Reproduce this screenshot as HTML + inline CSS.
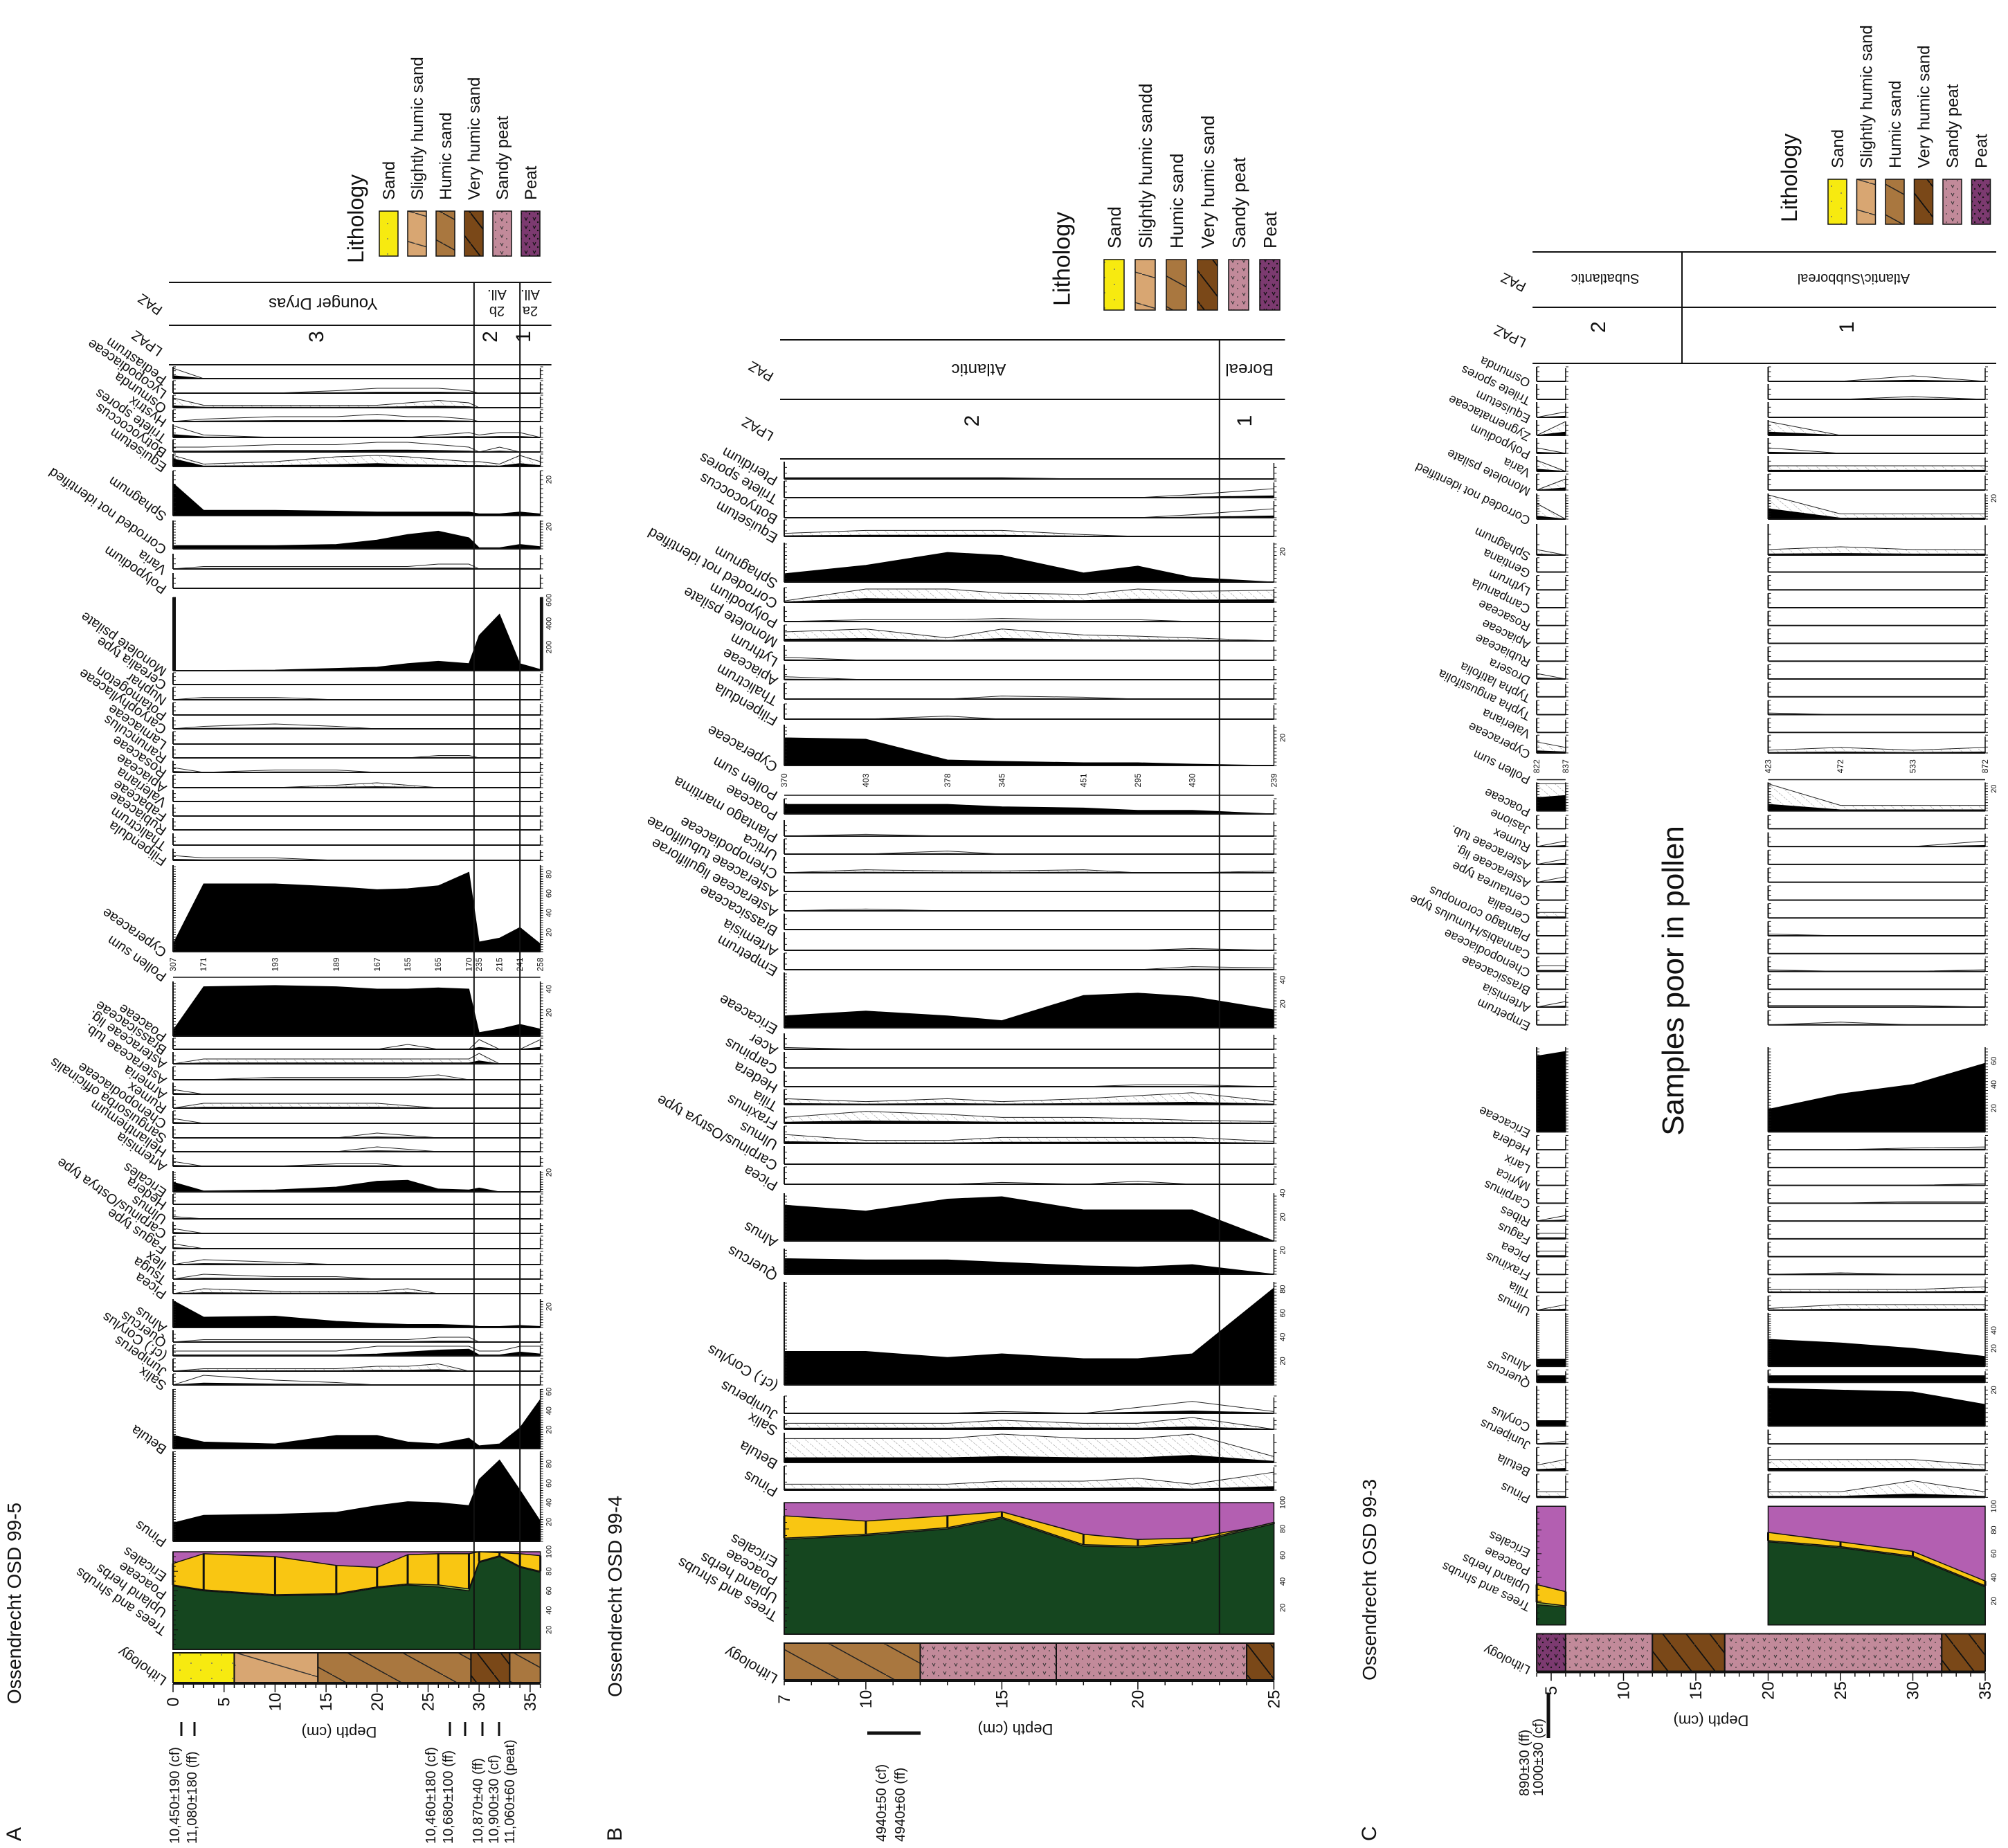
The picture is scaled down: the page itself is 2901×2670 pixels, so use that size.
<!DOCTYPE html>
<html><head><meta charset="utf-8"><style>
html,body{margin:0;padding:0;background:#fff}
svg{display:block;font-family:"Liberation Sans",sans-serif}
</style></head><body>
<svg id="chart" xmlns="http://www.w3.org/2000/svg" width="2901" height="2670" viewBox="0 0 2901 2670">
<defs>
<pattern id="hatch" patternUnits="userSpaceOnUse" width="9" height="9" patternTransform="rotate(-50)"><rect width="9" height="9" fill="#fff"/><line x1="0" y1="0" x2="0" y2="9" stroke="#999" stroke-width="1.2" stroke-dasharray="3,2"/></pattern>
<pattern id="pSand" patternUnits="userSpaceOnUse" width="30" height="22"><rect width="30" height="22" fill="#f7ea10"/><circle cx="6" cy="5" r="1" fill="#776"/><circle cx="20" cy="15" r="1" fill="#776"/></pattern>
<pattern id="pSlight" patternUnits="userSpaceOnUse" width="150" height="44"><rect width="150" height="44" fill="#d8a672"/><line x1="0" y1="0" x2="150" y2="44" stroke="#333" stroke-width="1.5"/><circle cx="40" cy="30" r="1" fill="#775"/></pattern>
<pattern id="pHumic" patternUnits="userSpaceOnUse" width="80" height="44"><rect width="80" height="44" fill="#a9773f"/><line x1="0" y1="0" x2="80" y2="44" stroke="#222" stroke-width="1.5"/></pattern>
<pattern id="pVery" patternUnits="userSpaceOnUse" width="34" height="44"><rect width="34" height="44" fill="#7a4818"/><line x1="0" y1="0" x2="34" y2="44" stroke="#111" stroke-width="1.8"/></pattern>
<pattern id="pSandyPeat" patternUnits="userSpaceOnUse" width="16" height="12"><rect width="16" height="12" fill="#c28a9a"/><path d="M3 3 l2 4 l2 -4" stroke="#333" fill="none" stroke-width="1"/><circle cx="12" cy="9" r="0.9" fill="#333"/></pattern>
<pattern id="pPeat" patternUnits="userSpaceOnUse" width="12" height="12"><rect width="12" height="12" fill="#7c3a70"/><path d="M2 2 l2 4 l2 -4" stroke="#111" fill="none" stroke-width="1.2"/><circle cx="9" cy="9" r="1.2" fill="#111"/></pattern>
</defs>
</svg>
<script>
// ---------- data: Panel A (Ossendrecht OSD 99-5) ----------
const depthsA=[0,3,10,16,20,23,26,29,30,32,34,36];
const pollenSumA=[307,171,193,189,167,155,165,170,235,215,241,258];
const treesA=[65,60,55,56,63,66,64,60,89,95,84,79];
const uplandA=[66,61,56,57,64,67,66,62,90,96,85,80];
const poaceaeSumA=[88,98,95,86,84,97,98,98,100,99,98,96];
const pinusA=[19,27,28,30,37,41,40,37,64,84,53,21];
const betulaA=[14,7,5,14,14,7,5,11,3,5,22,52];
const salixA=[0,2,1,0.5,0,0,0,0,0,0,0,0];
const juniperusA=[0,0.5,0.5,0.5,1,1,1.5,0,0,0,0,0];
const corylusA=[1,1,1,1,2,4,6,7,1,1,4,2];
const quercusA=[0,0.5,0.5,0.5,0.5,0.5,1,1,0,0,0,0];
const alnusA=[26,10,11,6,4,3,3,2,1,1,2,1];
const piceaA=[0,1,0.5,0.5,0.5,1,0,0,0,0,0,0];
const tsugaA=[0,1,0.5,0.5,0,0,0,0,0,0,0,0];
const ilexA=[0,1,0.5,0,0,0,0,0,0,0,0,0];
const fagusA=[1,0,0,0,0,0,0,0,0,0,0,0];
const carpinusA=[1,0,0,0,0,0,0,0,0,0,0,0];
const ulmusA=[0.5,0,0,0,0,0,0,0,0,0,0,0];
const hederaA=[0,0,0,0,0,0,0,0,0,0,0,0];
const ericalesA=[10,1,2,5,11,12,3,2,4,0,0,0];
const artemisiaA=[1,0,0,0.5,0.5,0,0,0,0,0,0,0];
const helianthemumA=[0,0,0,0,1,0.5,0,0,0,0,0,0];
const sanguisorbaA=[0,0,0,0,1,0.5,0,0,0,0,0,0];
const chenopodA=[1,0,0,0,0,0,0,0,0,0,0,0];
const rumexA=[0,1,1,1,1,0.5,0,0,0,0,0,0];
const armeriaA=[1,0,0,0,0,0,0,0,0,0,0,0];
const astTubA=[0,0,0.5,0.5,0.5,0.5,1,0,0,0,0,0];
const astLigA=[0,1,1,1,1,1,1,1,3,0,0,0];
const brassicaA=[0,0,0,0,0,1,0,0,2,0,0,2];
const poaceaeA=[5,42,43,42,40,40,41,40,3,6,10,6];
const cyperaceaeA=[8,70,70,67,64,65,68,82,10,14,25,8];
const filipendulaA=[1,0.5,0.5,0,0,0,0,0,0,0,0,0];
const thalictrumA=[0,0,0,0,0,0,0,0,0,0,0,0];
const rubiaceaeA=[0,0,0,0,0,0,0,0,0,0,0,0];
const fabaceaeA=[0,0,0,0,0,0,0,0,0,0,0,0];
const valerianaA=[0,0,0,0,0,0,0,0,0,0,0,0];
const apiaceaeA=[0,0,0,0.5,1,0.5,0,0,0,0,0,0];
const rosaceaeA=[1,0,0.5,0.5,0,0,0,0,0,0,0,0];
const ranunculusA=[0,0,0,0,0,0,0.5,0.5,0,0,0,0];
const lamiaceaeA=[0,0,0,0,0,0,0,0,0,0,0,0];
const caryoA=[0,0.5,1,0.5,0,0,0,0,0,0,0,0];
const potamogetonA=[0,0,0,0,0,0,0,0,0,0,0,0];
const nupharA=[0,0.5,0.5,0,0,0,0,0,0,0,0,0];
const cerealiaA=[0,0,0,0,0,0,0,0,0,0,0,0];
const monoleteA=[2,2,5,20,30,60,80,60,300,480,60,10];
const polypodiumA=[0,0,0,0,0,0,0,0,0,0,0,0];
const variaA=[0,0.5,0.5,0.5,0.5,0.5,1,1,0,0,0,0];
const corrodedA=[3,3,3,4,8,13,16,10,1,1,4,2];
const sphagnumA=[18,3,3,2.5,2,2,2,2,1,1,2,1];
const equisetumA=[8,0.5,1,2,3,2,1.5,1,1,0.5,3,1];
const botryoA=[1,1,1.5,1.5,2,2,1.5,1,0,1,0,0];
const trileteA=[3,0.5,0,0,0,0,0.5,1,0.5,1,1,0];
const hystrixA=[0,0.5,1,1,1.5,1,1,0.5,0,0,0,0];
const osmundaA=[2,0.5,0.5,0.5,0.5,1,1.5,1,0,0,0,0];
const lycopodA=[0,0,0,0.5,1,1,1,0.5,0,0,0,0];
const pediastrumA=[3,0,0,0,0,0,0,0,0,0,0,0];
// ---------- data: Panel B (Ossendrecht OSD 99-4) ----------
const depthsB=[7,10,13,15,18,20,22,25];
const pollenSumB=[370,403,378,345,451,295,430,239];
const treesB=[72,75,80,88,67,66,69,84];
const uplandB=[73,76,81,89,68,67,70,85];
const poaceaeSumB=[90,86,90,93,76,72,73,84];
const pinusB=[1,1,1,1.5,1.5,2,1,3];
const betulaB=[4,4,4,5,4,4,6,1];
const salixB=[1,1,1,1.5,1,1,2,0];
const juniperusB=[0,0,0,0.3,0,1,2,0.3];
const corylusB=[28,28,23,26,22,22,26,81];
const quercusB=[13,12,12,10,7,6,8,0];
const alnusB=[30,25,35,37,26,26,26,0];
const piceaB=[0,0,0,0.3,0,0.5,0,0];
const carpOstB=[0,0,0,0,0,0,0,0];
const ulmusB=[1.5,0.5,0.5,1,1,1,1,0.3];
const fraxinusB=[1,2,1.5,1,1,0.8,0.5,0.3];
const tiliaB=[1,0.5,1,0.5,1,1.5,2,0.5];
const hederaB=[0,0,0,0,0,0.3,0.3,0];
const carpinusB=[0,0,0,0,0,0,0,0];
const acerB=[0.3,0,0,0,0,0,0,0];
const ericaceaeB=[10,14,10,6,27,29,26,15];
const empetrumB=[0,0,0,0,0,0,0.5,0.3];
const artemisiaB=[0,0,0,0,0,0,0.3,0];
const brassicaB=[0,0,0,0,0,0,0,0];
const astLigB=[0,0.3,0,0,0,0,0,0];
const astTubB=[0,0,0,0,0,0,0,0];
const chenopodB=[0,0.5,0.3,0.3,0.5,0,0,0.3];
const urticaB=[0,0,0.5,0,0,0,0,0];
const plantagoB=[0,0.3,0,0,0,0,0,0];
const poaceaeB=[8,8,8,6,5,3,3,0];
const cyperaceaeB=[20,19,4,3,2,2,1,0];
const filipendulaB=[0,0,0.5,0,0,0,0,0];
const thalictrumB=[0,0,0,0.5,0.3,0,0,0];
const apiaceaeB=[0.5,0,0,0,0,0,0,0];
const lythrumB=[0.5,0,0,0,0,0,0,0];
const monoleteB=[1.5,2,0.5,2,1,0.8,0.5,0];
const polypodiumB=[0,0.3,0.3,0.5,0.3,0.3,0,0];
const corrodedB=[0.2,3,2.5,1.5,1.3,2.5,1.8,2];
const sphagnumB=[5.5,11,19.5,17.5,6,10.5,3,0];
const equisetumB=[0.5,1,1,1,0.3,0,0,0];
const botryoB=[0,0,0,0,0,0,0.5,1.5];
const trileteB=[0,0,0,0,0,0,0.5,1.5];
const pteridiumB=[1,1,1,1,0,0,0,0];
// ---------- data: Panel C (Ossendrecht OSD 99-3) ----------
const depthsC=[4,6,20,25,30,35];
const pollenSumC=[822,837,423,472,533,872];
const treesC=[17,15,70,65,57,32];
const uplandC=[19,16,71,66,58,33];
const poaceaeSumC=[34,28,78,70,62,37];
const pinusC=[1,1,1,1,3,1];
const betulaC=[1,2,2,2,2,1];
const juniperusC=[0,0.5,0,0,0,0];
const corylusC=[3,3,21,20,19,12];
const quercusC=[6,6,6,6,6,6];
const alnusC=[8,8,30,26,20,11];
const ulmusC=[0,1,0.3,1,1,1];
const tiliaC=[0,0,0.5,0.5,0.5,1];
const fraxinusC=[0,0,0,0.3,0,0];
const piceaC=[1,1,0,0,0,0];
const fagusC=[1,1,0,0,0,0];
const ribesC=[0,1,0,0,0,0];
const carpinusC=[0,0,0,0,0.3,0.3];
const myricaC=[0,0,0,0,0,0.3];
const larixC=[0,0,0,0,0,0];
const hederaC=[0,0,0,0,0.3,0.5];
const ericaceaeC=[64,68,19,32,40,58];
const empetrumC=[0,0,0,0.5,0,0];
const artemisiaC=[0,1,0.3,0.3,0.3,0];
const brassicaC=[0,0,0,0,0,0];
const chenopodC=[1,1,0.3,0,0,0.3];
const cannabisC=[0,0,0,0,0,0];
const plantagoC=[0,0,0.3,0,0,0];
const cerealiaC=[1,1,0,0,0,0];
const centaureaC=[0,0,0,0,0,0];
const astLigC=[0,1,0,0,0,0];
const astTubC=[0,1,0,0,0,0];
const rumexC=[0,1,0,0,0,1];
const jasioneC=[0,0,0,0,0,0];
const poaceaeC=[12,14,6,1,1,1];
const cyperaceaeC=[2,1,0.5,1,0.5,1];
const valerianaC=[0,0,0,0,0,0];
const typhaAC=[0,0,0.3,0,0,0];
const typhaLC=[0,0,0,0,0,0];
const droseraC=[1,0,0,0,0,0];
const rubiaceaeC=[0,0,0,0,0,0];
const apiaceaeC=[0,0,0,0,0,0];
const rosaceaeC=[0,0,0,0,0,0];
const campanulaC=[0,0,0,0,0,0];
const lythrumC=[0,0,0,0,0,0];
const gentianaC=[0,0,0,0,0,0];
const sphagnumC=[1,0,1,1.5,1,1];
const corrodedC=[3,0,10,1,1,1];
const monoleteC=[0,2,0,0,0,0];
const variaC=[2,0,1,1,1,1];
const polypodiumC=[1,0,1,0,0,0];
const zygnemaC=[0,3,3,0,0,0];
const equisetumC=[0,1,0,0,0,0];
const trileteC=[0,0,0,0,0.5,0];
const osmundaC=[0,0,0,0,1,0];

// ---------- rendering ----------
const NS='http://www.w3.org/2000/svg';
const svg=document.getElementById('chart');
function mk(tag,attrs,parent){const e=document.createElementNS(NS,tag);for(const k in attrs)e.setAttribute(k,attrs[k]);(parent||svg).appendChild(e);return e;}
function slug(s){return s.toLowerCase().replace(/[^a-z0-9]+/g,'-').replace(/^-|-$/g,'');}
function txt(str,x,y,size,rot,anchor,name,parent){
  const t=mk('text',{x:0,y:0,'font-size':size,'text-anchor':anchor||'start',fill:'#111',transform:`translate(${x},${y}) rotate(${rot||0})`},parent);
  t.textContent=str;
  
  
  return t;
}
function line(x1,y1,x2,y2,w,parent,c){return mk('line',{x1,y1,x2,y2,stroke:c||'#111','stroke-width':w||1.5},parent);}

function drawPanel(P){
  const g=mk('g',{});
  
  
  const X=P.x;
  const segs=P.segs;
  const d=P.depths;
  const segX=s=>[X(d[s[0]]),X(d[s[1]])];
  P.cols.forEach(c=>{
    const cg=mk('g',{},g);
    
    
    const h=c.b-c.t;
    if(c.k==='sum'){
      const layers=[[null,'#b35fb1'],[P.poa,'#f9c612'],[P.upl,'#8db84a'],[P.trees,'#15461f']];
      segs.forEach(s=>{
        layers.forEach(([arr,col])=>{
          let pts=`${X(d[s[0]])},${c.b} `;
          for(let i=s[0];i<=s[1];i++){const v=arr?arr[i]:100;pts+=`${X(d[i])},${c.b-v/100*h} `;}
          pts+=`${X(d[s[1]])},${c.b}`;
          const p=mk('polygon',{points:pts,fill:col,stroke:'#111','stroke-width':1.5},cg);
          
          
        });
        for(let i=s[0];i<=s[1];i++){line(X(d[i]),c.b-P.upl[i]/100*h,X(d[i]),c.b-P.poa[i]/100*h,3,cg);}
      });
      line(P.xl,c.t,P.xl,c.b,2,cg);
      for(let v=0;v<=100;v+=5)line(P.xl,c.b-v/100*h,P.xl+(v%20?4:7),c.b-v/100*h,1,cg);
      [20,40,60,80,100].forEach(v=>txt(String(v),P.xr+16,c.b-v/100*h,11,-90,'middle','summary-scale-label',cg));
      ['Trees and shrubs','Upland herbs','Poaceae','Ericales'].forEach((n,j)=>txt(n,P.xl-8,c.b-30-j*26,P.fs,P.ang,'start','label-'+slug(n),cg));
      return;
    }
    if(c.k==='ps'){
      segs.forEach(s=>{const [a,b]=segX(s);line(a,c.t,b,c.t,1.5,cg);line(a,c.b,b,c.b,1.5,cg);});
      d.forEach((dv,i)=>txt(String(P.ps[i]),X(dv)+4,(c.t+c.b)/2,12,-90,'middle','pollen-sum-value',cg));
      txt('Pollen sum',P.xl-8,c.b-4,P.fs,P.ang,'start','label-pollen-sum',cg);
      return;
    }
    const big=c.s&&c.s.length;
    segs.forEach(s=>{
      const [a,b]=segX(s);
      if(c.k!=='black'){
        let ex=`${a},${c.b} `;
        for(let i=s[0];i<=s[1];i++)ex+=`${X(d[i])},${c.b-Math.min(c.v[i]*c.u*5,h-2)} `;
        ex+=`${b},${c.b}`;
        const e=mk('polygon',{points:ex,fill:c.k==='hatch'?'url(#hatch)':'none',stroke:'#222','stroke-width':1},cg);
        
        
      }
      let pts=`${a},${c.b} `;
      for(let i=s[0];i<=s[1];i++)pts+=`${X(d[i])},${c.b-Math.min(c.v[i]*c.u,h)} `;
      pts+=`${b},${c.b}`;
      const p=mk('polygon',{points:pts,fill:'#000',stroke:'#000','stroke-width':1},cg);
      
      
      line(a,c.b,b,c.b,2,cg);
      line(a,c.t,a,c.b,2,cg);
      line(b,c.t+(big?0:2),b,c.b,1.5,cg);
      const step=big?c.u*2.5:h/3;
      for(let y=c.b;y>=c.t;y-=step){line(a,y,a+4,y,1,cg);line(b,y,b+4,y,1,cg);}
    });
    if(big)c.s.forEach(v=>txt(String(v),P.xr+16,c.b-v*c.u,11,-90,'middle','scale-label',cg));
    txt(c.n,P.xl-8,c.b-2,P.fs,P.ang,'start','label-'+slug(c.n),cg);
  });
  // lithology
  const lg=mk('g',{},g);
  
  
  P.lith.forEach(([d0,d1,pat])=>{const r=mk('rect',{x:X(d0),y:P.lt,width:X(d1)-X(d0),height:P.lb-P.lt,fill:`url(#${pat})`,stroke:'#111','stroke-width':2},lg);
    
    });
  txt('Lithology',P.xl-8,P.lb-6,P.fs,P.ang,'start','label-lithology',lg);
  // depth axis
  const ag=mk('g',{},g);
  
  
  line(P.x(P.dmin),P.lb+2,P.x(P.dmax),P.lb+2,2,ag);
  for(let k=Math.ceil(P.dmin);k<=P.dmax;k++){line(X(k),P.lb+2,X(k),P.lb+(k%5?8:14),1.5,ag);}
  P.ticks.forEach(t=>txt(String(t),X(t)+8,P.lb+28,24,-90,'middle','depth-tick-label',ag));
  txt('Depth (cm)',P.depthLabelX,P.lb+64,22,180,'middle','depth-axis-title',ag);
  // zones
  P.zoneX.forEach(z=>line(X(z),P.paz[0],X(z),P.zoneBottom,2,g));
  P.paz.forEach(y=>line(P.xl-6,y,P.xr+16,y,2,g));
  P.pazDiv.forEach(x=>line(x,P.paz[0],x,P.paz[2],2,g));
  txt('PAZ',P.xl-14,(P.paz[0]+P.paz[1])/2+6,20,P.ang,'start','paz-header',g);
  txt('LPAZ',P.xl-14,(P.paz[1]+P.paz[2])/2+6,20,P.ang,'start','lpaz-header',g);
  P.pazLabels.forEach(([s,x,fs])=>s.split('|').forEach((part,j,arr)=>txt(part,x,(P.paz[0]+P.paz[1])/2-8+(j-(arr.length-1)/2)*24,fs,180,'middle','paz-zone-label',g)));
  P.lpazLabels.forEach(([s,x])=>txt(s,x,(P.paz[1]+P.paz[2])/2-12,30,-90,'middle','lpaz-zone-label',g));
  // legend
  const L=P.legend;
  const lgd=mk('g',{},g);
  
  
  txt('Lithology',L.x+L.fs*0.4,L.y1,L.fs,-90,'start','legend-title',lgd);
  L.items.forEach(([name,pat],i)=>{
    const sx=L.sx+i*L.sp;
    const r=mk('rect',{x:sx,y:L.y0,width:L.w,height:L.h,fill:`url(#${pat})`,stroke:'#111','stroke-width':1.5},lgd);
    
    
    txt(name,sx+L.w/2+L.ifs*0.36,L.y0-16,L.ifs,-90,'start','legend-entry-'+slug(name),lgd);
  });
  // titles and dates
  txt(P.title,P.titleX+10,P.titleY,28,-90,'start','panel-title',g);
  txt(P.letter,P.titleX+10,2660,30,-90,'start','panel-letter',g);
  P.dates.forEach(([s,x,y])=>txt(s,x+7,y,20,-90,'start','radiocarbon-date',g));
  P.bars.forEach(([x1,y1,x2,y2,w])=>line(x1,y1,x2,y2,w,g));
}

const legItems=[['Sand','pSand'],['Slightly humic sand','pSlight'],['Humic sand','pHumic'],['Very humic sand','pVery'],['Sandy peat','pSandyPeat'],['Peat','pPeat']];
const legItemsB=[['Sand','pSand'],['Slightly humic sandd','pSlight'],['Humic sand','pHumic'],['Very humic sand','pVery'],['Sandy peat','pSandyPeat'],['Peat','pPeat']];

// Panel A
const PA={id:'panel-a-osd-99-5',x:d=>250+d*14.74,xl:250,xr:250+36*14.74,depths:depthsA,segs:[[0,11]],fs:20,ang:215,
 ps:pollenSumA,trees:treesA,upl:uplandA,poa:poaceaeSumA,
 cols:[
 {n:'Pediastrum',t:530,b:547,k:'line',u:1.4,v:pediastrumA},
 {n:'Lycopodiaceae',t:550,b:568,k:'line',u:1.4,v:lycopodA},
 {n:'Osmunda',t:571,b:589,k:'hatch',u:1.4,v:osmundaA},
 {n:'Hystrix',t:592,b:609,k:'line',u:1.4,v:hystrixA},
 {n:'Trilete spores',t:613,b:632,k:'line',u:1.4,v:trileteA},
 {n:'Botryococcus',t:635,b:653,k:'line',u:1.4,v:botryoA},
 {n:'Equisetum',t:656,b:674,k:'hatch',u:1.4,v:equisetumA},
 {n:'Sphagnum',t:680,b:745,k:'black',u:2.6,v:sphagnumA,s:[20]},
 {n:'Corroded not identified',t:752,b:793,k:'black',u:1.6,v:corrodedA,s:[20]},
 {n:'Varia',t:800,b:822,k:'line',u:1.4,v:variaA},
 {n:'Polypodium',t:828,b:850,k:'line',u:1.4,v:polypodiumA},
 {n:'Monolete psilate',t:863,b:969,k:'black',u:0.17,v:monoleteA,s:[200,400,600]},
 {n:'Cerealia type',t:972,b:989,k:'line',u:1.4,v:cerealiaA},
 {n:'Nuphar',t:993,b:1011,k:'line',u:1.4,v:nupharA},
 {n:'Potamogeton',t:1015,b:1033,k:'line',u:1.4,v:potamogetonA},
 {n:'Caryophyllaceae',t:1036,b:1053,k:'line',u:1.4,v:caryoA},
 {n:'Lamiaceae',t:1057,b:1075,k:'line',u:1.4,v:lamiaceaeA},
 {n:'Ranunculus',t:1078,b:1095,k:'line',u:1.4,v:ranunculusA},
 {n:'Rosaceae',t:1099,b:1116,k:'line',u:1.4,v:rosaceaeA},
 {n:'Apiaceae',t:1120,b:1138,k:'hatch',u:1.4,v:apiaceaeA},
 {n:'Valeriana',t:1141,b:1158,k:'line',u:1.4,v:valerianaA},
 {n:'Fabaceae',t:1162,b:1179,k:'line',u:1.4,v:fabaceaeA},
 {n:'Rubiaceae',t:1182,b:1199,k:'line',u:1.4,v:rubiaceaeA},
 {n:'Thalictrum',t:1204,b:1221,k:'line',u:1.4,v:thalictrumA},
 {n:'Filipendula',t:1226,b:1243,k:'line',u:1.4,v:filipendulaA},
 {n:'Cyperaceae',t:1250,b:1375,k:'black',u:1.4,v:cyperaceaeA,s:[20,40,60,80]},
 {n:'Pollensum',t:1375,b:1412,k:'ps'},
 {n:'Poaceae',t:1418,b:1497,k:'black',u:1.7,v:poaceaeA,s:[20,40]},
 {n:'Brassicaceae',t:1500,b:1516,k:'line',u:1.4,v:brassicaA},
 {n:'Asteraceae lig.',t:1520,b:1537,k:'hatch',u:1.4,v:astLigA},
 {n:'Asteraceae tub.',t:1541,b:1560,k:'line',u:1.4,v:astTubA},
 {n:'Armeria',t:1564,b:1581,k:'line',u:1.4,v:armeriaA},
 {n:'Rumex',t:1584,b:1601,k:'hatch',u:1.4,v:rumexA},
 {n:'Chenopodiaceae',t:1605,b:1623,k:'line',u:1.4,v:chenopodA},
 {n:'Sanguisorba officinalis',t:1627,b:1644,k:'line',u:1.4,v:sanguisorbaA},
 {n:'Helianthemum',t:1647,b:1664,k:'line',u:1.4,v:helianthemumA},
 {n:'Artemisia',t:1668,b:1685,k:'line',u:1.4,v:artemisiaA},
 {n:'Ericales',t:1692,b:1722,k:'black',u:1.4,v:ericalesA,s:[20]},
 {n:'Hedera',t:1725,b:1740,k:'line',u:1.4,v:hederaA},
 {n:'Ulmus',t:1744,b:1761,k:'line',u:1.4,v:ulmusA},
 {n:'Carpinus/Ostrya type',t:1765,b:1782,k:'line',u:1.4,v:carpinusA},
 {n:'Fagus type',t:1786,b:1804,k:'line',u:1.4,v:fagusA},
 {n:'Ilex',t:1808,b:1827,k:'line',u:1.4,v:ilexA},
 {n:'Tsuga',t:1831,b:1848,k:'line',u:1.4,v:tsugaA},
 {n:'Picea',t:1852,b:1869,k:'hatch',u:1.4,v:piceaA},
 {n:'Alnus',t:1877,b:1918,k:'black',u:1.5,v:alnusA,s:[20]},
 {n:'Quercus',t:1922,b:1939,k:'line',u:1.4,v:quercusA},
 {n:'(cf.) Corylus',t:1943,b:1959,k:'line',u:1.4,v:corylusA},
 {n:'Juniperus',t:1963,b:1981,k:'hatch',u:1.4,v:juniperusA},
 {n:'Salix',t:1985,b:2001,k:'line',u:1.4,v:salixA},
 {n:'Betula',t:2007,b:2093,k:'black',u:1.37,v:betulaA,s:[20,40,60]},
 {n:'Pinus',t:2097,b:2227,k:'black',u:1.4,v:pinusA,s:[20,40,60,80]},
 {n:'summary',t:2242,b:2383,k:'sum'}],
 lt:2388,lb:2431,dmin:0,dmax:36,ticks:[0,5,10,15,20,25,30,35],depthLabelX:490,
 lith:[[0,6,'pSand'],[6,14.2,'pSlight'],[14.2,29.2,'pHumic'],[29.2,33,'pVery'],[33,36,'pHumic']],
 zoneX:[29.5,34],zoneBottom:2383,paz:[408,470,527],pazDiv:[],
 pazLabels:[['Younger Dryas',467,24],['All.|2b',718,20],['All.|2a',766,20]],
 lpazLabels:[['3',467],['2',718],['1',766]],
 legend:{x:512,y1:380,sx:548,sp:41,y0:305,w:27,h:65,fs:32,ifs:24,items:legItems},
 title:'Ossendrecht OSD 99-5',titleX:20,titleY:2462,letter:'A',
 dates:[['10,450±190 (cf)',252,2664],['11,080±180 (ff)',277,2664],['10,460±180 (cf)',622,2664],['10,680±100 (ff)',647,2664],['10,870±40 (ff)',690,2664],['10,900±30 (cf)',713,2664],['11,060±60 (peat)',736,2664]],
 bars:[[262,2488,262,2508,3],[281,2488,281,2508,3],[650,2488,650,2508,3],[672,2488,672,2508,3],[697,2488,697,2508,3],[721,2488,721,2508,3]]
};
// Panel B
const PB={id:'panel-b-osd-99-4',x:d=>1133+(d-7)*39.3,xl:1133,xr:1133+18*39.3,depths:depthsB,segs:[[0,7]],fs:21,ang:210,
 ps:pollenSumB,trees:treesB,upl:uplandB,poa:poaceaeSumB,
 cols:[
 {n:'Pteridium',t:667,b:692,k:'black',u:1.73,v:pteridiumB},
 {n:'Trilete spores',t:695,b:719,k:'line',u:1.73,v:trileteB},
 {n:'Botryococcus',t:722,b:748,k:'line',u:1.73,v:botryoB},
 {n:'Equisetum',t:751,b:775,k:'hatch',u:1.73,v:equisetumB},
 {n:'Sphagnum',t:784,b:841,k:'black',u:2.2,v:sphagnumB,s:[20]},
 {n:'Corroded not identified',t:849,b:870,k:'hatch',u:1.73,v:corrodedB},
 {n:'Polypodium',t:876,b:898,k:'line',u:1.73,v:polypodiumB},
 {n:'Monolete psilate',t:903,b:926,k:'hatch',u:1.73,v:monoleteB},
 {n:'Lythrum',t:932,b:954,k:'line',u:1.73,v:lythrumB},
 {n:'Apiaceae',t:960,b:982,k:'line',u:1.73,v:apiaceaeB},
 {n:'Thalictrum',t:987,b:1010,k:'line',u:1.73,v:thalictrumB},
 {n:'Filipendula',t:1017,b:1039,k:'line',u:1.73,v:filipendulaB},
 {n:'Cyperaceae',t:1047,b:1106,k:'black',u:2.0,v:cyperaceaeB,s:[20]},
 {n:'Pollen sum',t:1106,b:1149,k:'ps'},
 {n:'Poaceae',t:1154,b:1176,k:'black',u:1.73,v:poaceaeB},
 {n:'Plantago maritima',t:1185,b:1208,k:'line',u:1.73,v:plantagoB},
 {n:'Urtica',t:1212,b:1234,k:'line',u:1.73,v:urticaB},
 {n:'Chenopodiaceae',t:1238,b:1261,k:'hatch',u:1.73,v:chenopodB},
 {n:'Asteraceae tubuliflorae',t:1265,b:1288,k:'line',u:1.73,v:astTubB},
 {n:'Asteraceae liguliflorae',t:1292,b:1316,k:'line',u:1.73,v:astLigB},
 {n:'Brassicaceae',t:1320,b:1343,k:'line',u:1.73,v:brassicaB},
 {n:'Artemisia',t:1347,b:1373,k:'line',u:1.73,v:artemisiaB},
 {n:'Empetrum',t:1377,b:1401,k:'line',u:1.73,v:empetrumB},
 {n:'Ericaceae',t:1405,b:1485,k:'black',u:1.73,v:ericaceaeB,s:[20,40]},
 {n:'Acer',t:1493,b:1516,k:'line',u:1.73,v:acerB},
 {n:'Carpinus',t:1520,b:1543,k:'line',u:1.73,v:carpinusB},
 {n:'Hedera',t:1547,b:1570,k:'line',u:1.73,v:hederaB},
 {n:'Tilia',t:1574,b:1596,k:'hatch',u:1.73,v:tiliaB},
 {n:'Fraxinus',t:1600,b:1623,k:'hatch',u:1.73,v:fraxinusB},
 {n:'Ulmus',t:1627,b:1652,k:'hatch',u:1.73,v:ulmusB},
 {n:'Carpinus/Ostrya type',t:1656,b:1682,k:'line',u:1.73,v:carpOstB},
 {n:'Picea',t:1686,b:1711,k:'line',u:1.73,v:piceaB},
 {n:'Alnus',t:1724,b:1793,k:'black',u:1.73,v:alnusB,s:[20,40]},
 {n:'Quercus',t:1804,b:1841,k:'black',u:1.73,v:quercusB,s:[20]},
 {n:'(cf.) Corylus',t:1852,b:2001,k:'black',u:1.73,v:corylusB,s:[20,40,60,80]},
 {n:'Juniperus',t:2017,b:2042,k:'line',u:1.73,v:juniperusB},
 {n:'Salix',t:2046,b:2065,k:'hatch',u:1.73,v:salixB},
 {n:'Betula',t:2070,b:2113,k:'hatch',u:1.73,v:betulaB},
 {n:'Pinus',t:2118,b:2153,k:'hatch',u:1.73,v:pinusB},
 {n:'summary',t:2171,b:2361,k:'sum'}],
 lt:2374,lb:2427,dmin:7,dmax:25,ticks:[7,10,15,20,25],depthLabelX:1467,
 lith:[[7,12,'pHumic'],[12,17,'pSandyPeat'],[17,24,'pSandyPeat'],[24,25,'pVery']],
 zoneX:[23],zoneBottom:2361,paz:[491,577,663],pazDiv:[],
 pazLabels:[['Atlantic',1414,24],['Boreal',1805,24]],
 lpazLabels:[['2',1414],['1',1808]],
 legend:{x:1532,y1:442,sx:1595,sp:45,y0:375,w:29,h:73,fs:34,ifs:26,items:legItemsB},
 title:'Ossendrecht OSD 99-4',titleX:888,titleY:2452,letter:'B',
 dates:[['4940±50 (cf)',1273,2661],['4940±60 (ff)',1300,2661]],
 bars:[[1253,2504,1330,2504,5]]
};
// Panel C
const cy=z=>650+z*1.288;
const PC={id:'panel-c-osd-99-3',x:d=>2241+(d-5)*20.9,xl:2241-20.9,xr:2241+30*20.9,depths:depthsC,segs:[[0,1],[2,5]],fs:18,ang:206,
 ps:pollenSumC,trees:treesC,upl:uplandC,poa:poaceaeSumC,
 cols:[
 {n:'Osmunda',t:530,b:551,k:'line',u:1.6,v:osmundaC},
 {n:'Trilete spores',t:555,b:577,k:'line',u:1.6,v:trileteC},
 {n:'Equisetum',t:581,b:603,k:'line',u:1.6,v:equisetumC},
 {n:'Zygnemataceae',t:607,b:629,k:'hatch',u:1.6,v:zygnemaC},
 {n:'Polypodium',t:633,b:655,k:'line',u:1.6,v:polypodiumC},
 {n:'Varia',t:659,b:681,k:'hatch',u:1.6,v:variaC},
 {n:'Monolete psilate',t:685,b:708,k:'hatch',u:1.6,v:monoleteC},
 {n:'Corroded not identified',t:713,b:750,k:'hatch',u:1.5,v:corrodedC,s:[20]},
 {n:'Sphagnum',t:757,b:cy(118),k:'hatch',u:1.6,v:sphagnumC},
 {n:'Gentiana',t:cy(121),b:cy(137),k:'line',u:1.6,v:gentianaC},
 {n:'Lythrum',t:cy(141),b:cy(157),k:'line',u:1.6,v:lythrumC},
 {n:'Campanula',t:cy(161),b:cy(177),k:'line',u:1.6,v:campanulaC},
 {n:'Rosaceae',t:cy(181),b:cy(197),k:'line',u:1.6,v:rosaceaeC},
 {n:'Apiaceae',t:cy(201),b:cy(217),k:'line',u:1.6,v:apiaceaeC},
 {n:'Rubiaceae',t:cy(221),b:cy(237),k:'line',u:1.6,v:rubiaceaeC},
 {n:'Drosera',t:cy(241),b:cy(257),k:'line',u:1.6,v:droseraC},
 {n:'Typha latifolia',t:cy(261),b:cy(277),k:'line',u:1.6,v:typhaLC},
 {n:'Typha angustifolia',t:cy(281),b:cy(297),k:'line',u:1.6,v:typhaAC},
 {n:'Valeriana',t:cy(301),b:cy(317),k:'line',u:1.6,v:valerianaC},
 {n:'Cyperaceae',t:cy(320),b:cy(340),k:'hatch',u:1.6,v:cyperaceaeC},
 {n:'Pollen sum',t:cy(340),b:cy(370),k:'ps'},
 {n:'Poaceae',t:cy(373),b:cy(405),k:'hatch',u:1.6,v:poaceaeC,s:[20]},
 {n:'Jasione',t:cy(410),b:cy(425),k:'line',u:1.6,v:jasioneC},
 {n:'Rumex',t:cy(429),b:cy(445),k:'line',u:1.6,v:rumexC},
 {n:'Asteraceae tub.',t:cy(449),b:cy(465),k:'line',u:1.6,v:astTubC},
 {n:'Asteraceae lig.',t:cy(469),b:cy(485),k:'line',u:1.6,v:astLigC},
 {n:'Centaurea type',t:cy(489),b:cy(505),k:'line',u:1.6,v:centaureaC},
 {n:'Cerealia',t:cy(509),b:cy(525),k:'hatch',u:1.6,v:cerealiaC},
 {n:'Plantago coronopus',t:cy(529),b:cy(545),k:'line',u:1.6,v:plantagoC},
 {n:'Cannabis/Humulus type',t:cy(549),b:cy(565),k:'line',u:1.6,v:cannabisC},
 {n:'Chenopodiaceae',t:cy(569),b:cy(585),k:'line',u:1.6,v:chenopodC},
 {n:'Brassicaceae',t:cy(589),b:cy(605),k:'line',u:1.6,v:brassicaC},
 {n:'Artemisia',t:cy(609),b:cy(625),k:'line',u:1.6,v:artemisiaC},
 {n:'Empetrum',t:cy(629),b:cy(645),k:'line',u:1.6,v:empetrumC},
 {n:'Ericaceae',t:cy(670),b:cy(765),k:'black',u:1.71,v:ericaceaeC,s:[20,40,60]},
 {n:'Hedera',t:cy(769),b:cy(785),k:'line',u:1.6,v:hederaC},
 {n:'Larix',t:cy(789),b:cy(805),k:'line',u:1.6,v:larixC},
 {n:'Myrica',t:cy(809),b:cy(825),k:'line',u:1.6,v:myricaC},
 {n:'Carpinus',t:cy(829),b:cy(845),k:'line',u:1.6,v:carpinusC},
 {n:'Ribes',t:cy(849),b:cy(865),k:'line',u:1.6,v:ribesC},
 {n:'Fagus',t:cy(869),b:cy(885),k:'line',u:1.6,v:fagusC},
 {n:'Picea',t:cy(889),b:cy(905),k:'line',u:1.6,v:piceaC},
 {n:'Fraxinus',t:cy(909),b:cy(925),k:'line',u:1.6,v:fraxinusC},
 {n:'Tilia',t:cy(929),b:cy(945),k:'hatch',u:1.6,v:tiliaC},
 {n:'Ulmus',t:cy(949),b:cy(965),k:'hatch',u:1.6,v:ulmusC},
 {n:'Alnus',t:cy(968),b:cy(1028),k:'black',u:1.3,v:alnusC,s:[20,40]},
 {n:'Quercus',t:cy(1032),b:cy(1046),k:'black',u:1.6,v:quercusC},
 {n:'Corylus',t:cy(1050),b:cy(1095),k:'black',u:2.6,v:corylusC,s:[20]},
 {n:'Juniperus',t:cy(1099),b:cy(1115),k:'line',u:1.6,v:juniperusC},
 {n:'Betula',t:cy(1119),b:cy(1145),k:'hatch',u:1.6,v:betulaC},
 {n:'Pinus',t:cy(1149),b:cy(1175),k:'hatch',u:1.6,v:pinusC},
 {n:'summary',t:cy(1185),b:cy(1318),k:'sum'}],
 lt:cy(1328),lb:cy(1370),dmin:4,dmax:35,ticks:[5,10,15,20,25,30,35],depthLabelX:2472,
 lith:[[4,6,'pPeat'],[6,12,'pSandyPeat'],[12,17,'pVery'],[17,32,'pSandyPeat'],[32,35,'pVery']],
 zoneX:[],zoneBottom:0,paz:[364,444,525],pazDiv:[2430],
 pazLabels:[['Subatlantic',2319,20],['Atlantic\\Subboreal',2678,20]],
 lpazLabels:[['2',2319],['1',2678]],
 legend:{x:2583,y1:321,sx:2641,sp:41.5,y0:259,w:27,h:65,fs:32,ifs:24,items:legItems},
 title:'Ossendrecht OSD 99-3',titleX:1978,titleY:2428,letter:'C',
 dates:[['890±30 (ff)',2202,2595],['1000±30 (cf)',2222,2595]],
 bars:[[2237,2447,2237,2511,5]]
};
[PA,PB,PC].forEach(drawPanel);
// panel C gap note
const note=txt('Samples poor in pollen',2432,1417,44,-90,'middle','samples-poor-note');
</script>
</body></html>
